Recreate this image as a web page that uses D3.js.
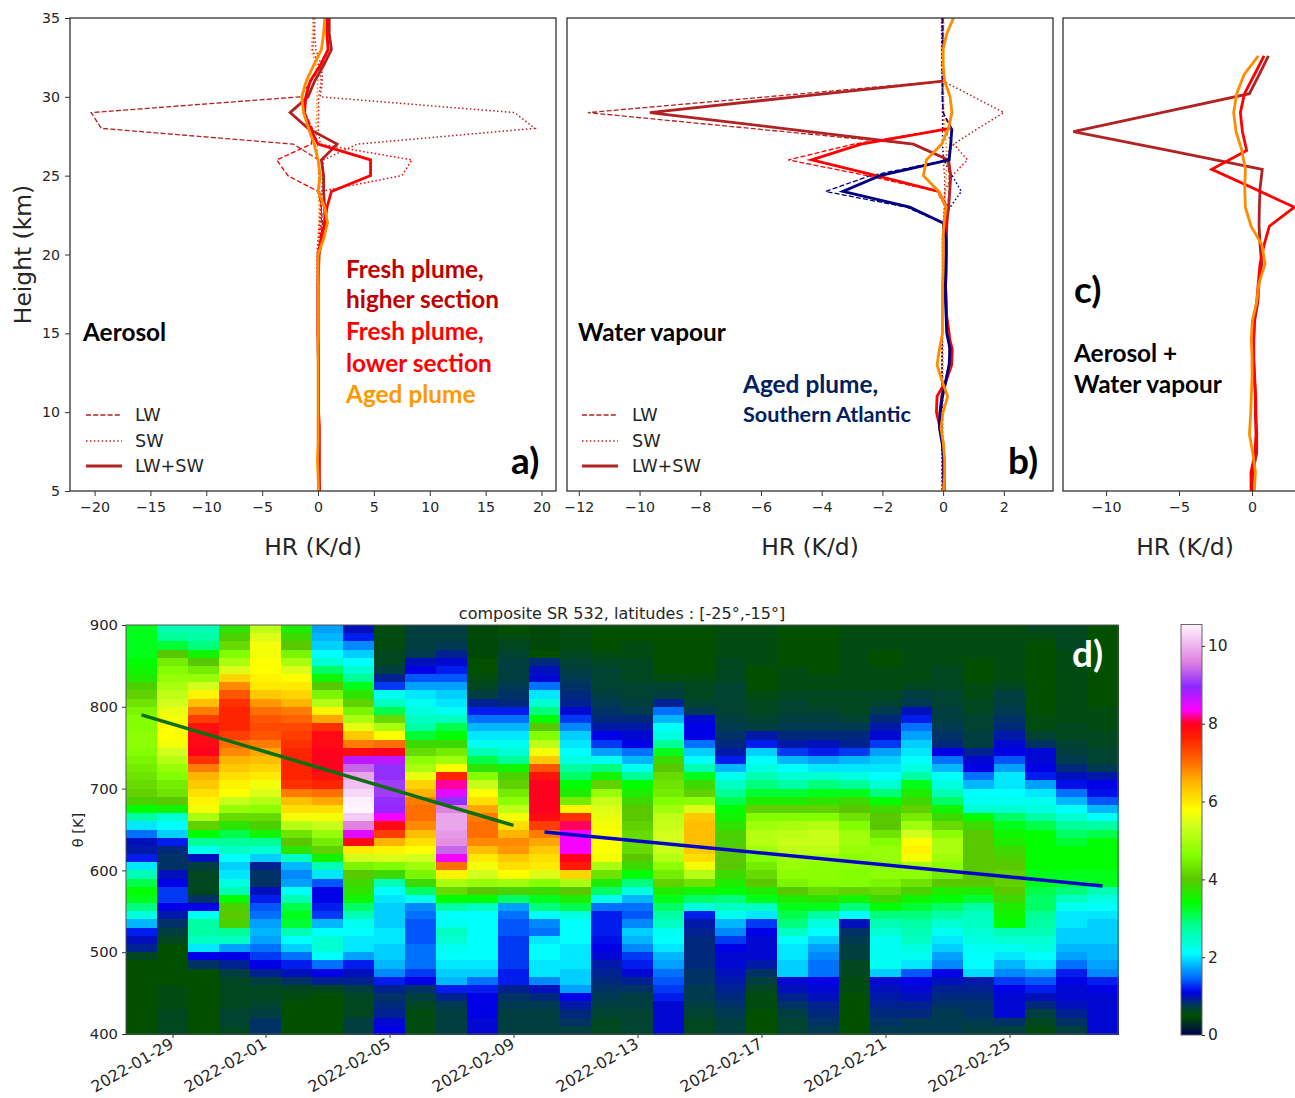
<!DOCTYPE html>
<html>
<head>
<meta charset="utf-8">
<title>HR profiles and composite SR</title>
<style>
  body { margin: 0; background: #fff; }
  svg { display: block; }
  .ax text { font-family: "DejaVu Sans", sans-serif; fill: #262626; }
  .ax path, .ax line { stroke: #333; }
  .note { font-family: Lato, sans-serif; font-weight: 700; }
</style>
</head>
<body>
<svg id="fig" width="1295" height="1098"></svg>
<script src="https://d3js.org/d3.v7.min.js"></script>
<script>
// heights of the profiles, top to bottom (km)
var hrHeights = [35,34,33,32,31,30,29,28,27,26,25,24,23,22,21,20,19,18,17,16,15,14,13,12,11,10,9,8,7,6,5];
var hrHeightsC = [32.6,31.4,30.2,29,27.8,26.6,25.4,24.2,23,21.8,20.6,19.4,18.2,17,15.8,14.6,13.4,12.2,11,9.8,8.6,7.4,6.2,5];

// panel a, aerosol
var aHighTotal = [1,1,1.2,.5,-.3,-.9,-2.5,-.9,1.7,.3,.5,.5,.6,.6,.35,.1,.05,0,0,0,0,.05,.05,.05,.05,.05,.1,.1,.1,.1,.15];
var aHighLW = [.9,.9,.9,.3,-.6,-1.6,-20.3,-19.4,-2.2,.05,.1,.15,.3,.4,.25,.1,.05,0,0,0,0,.05,.05,.05,.05,.05,.1,.1,.1,.1,.1];
var aHighSW = [-.3,-.3,-.2,.3,.4,.2,17.6,19.4,3.5,.5,.4,.35,.3,.2,.1,0,-.05,-.05,-.05,-.05,-.05,0,0,0,0,0,0,0,0,0,0];
var aLowTotal = [.8,.8,.9,.2,-.7,-1.1,-1.2,-.7,0,4.7,4.7,1.2,.8,.6,.3,0,0,0,0,0,0,0,.05,.05,.05,.05,.1,.1,.1,.1,.1];
var aLowLW = [.9,.9,.95,.3,-.7,-1.1,-1.2,-.5,-.6,-3.7,-2.7,0,.3,.3,.2,0,0,0,0,0,0,0,.05,.05,.05,.05,.1,.1,.1,.1,.1];
var aLowSW = [-.45,-.35,-.5,.05,.3,.05,.05,0,.2,8.4,7.5,.3,.2,.1,0,-.1,-.1,-.05,-.05,-.05,-.05,0,0,0,0,0,0,0,0,0,0];
var aAgedTotal = [.6,.5,.3,-.4,-1.05,-1.45,-1.3,-.85,-.35,0,.2,0,.6,.85,.5,0,0,0,0,0,0,0,0,0,0,0,0,0,-.05,0,.05];
var aAgedLW = [.6,.5,.3,-.4,-1.05,-1.4,-1.2,-.7,-.3,0,.15,0,.5,.7,.4,0,0,0,0,0,0,0,0,0,0,0,0,0,-.05,0,.05];
var aAgedSW = [-.4,-.5,-.6,-.2,0,-.1,-.1,-.2,-.1,0,.05,0,.1,.1,.1,0,0,0,0,0,0,0,0,0,0,0,0,0,0,0,0];

// panel b, water vapour. null = the solid line does not reach that height
var bHighTotal = [null,null,null,null,0,-4.85,-9.66,-5.3,-.98,.18,.25,.22,.18,.12,.1,.1,.1,.08,.1,.12,.2,.22,.2,.1,-.05,-.1,-.1,-.02,.02,.03,.03];
var bHighLW = [0,0,0,0,0,-5.8,-11.7,-6.35,-1.03,.15,.2,.2,.15,.1,.1,.1,.1,.08,.1,.12,.18,.2,.2,.1,-.05,-.1,-.1,-.02,.02,.03,.03];
var bHighSW = [-.05,-.05,-.05,-.05,0,1,2,1.15,.35,0,.05,.05,.05,0,0,0,0,0,-.03,-.03,-.03,-.03,-.04,-.04,-.04,-.04,-.03,-.03,-.03,-.03,-.03];
var bLowTotal = [null,null,null,null,null,null,null,.23,-2.7,-4.33,-2.2,-.15,.12,.12,.1,.1,.1,.08,.1,.12,.17,.3,.28,.1,-.2,-.22,-.1,0,.02,.03,.03];
var bLowLW = [0,0,0,0,0,0,0,.23,-2.95,-5.1,-2.5,-.2,.08,.1,.1,.1,.1,.08,.1,.12,.17,.28,.27,.1,-.2,-.22,-.1,0,.02,.03,.03];
var bLowSW = [-.03,-.03,-.03,-.03,-.03,-.03,0,0,.35,.8,.3,.05,.04,.02,0,0,0,0,-.03,-.03,-.03,-.03,-.04,-.04,-.04,-.04,-.03,-.03,-.03,-.03,-.03];
var bSouthTotal = [null,null,null,null,null,null,null,.29,.25,.2,-2.08,-3.3,-1.1,0,.1,.1,.08,.08,.08,.1,.12,.23,.2,.09,-.02,-.1,-.12,-.03,.02,.02,.02];
var bSouthLW = [-.03,-.03,-.03,-.03,-.03,-.03,0,.29,.25,.18,-2.4,-3.87,-1.2,-.02,.1,.1,.08,.08,.08,.1,.12,.22,.2,.09,-.02,-.1,-.12,-.03,.02,.02,.02];
var bSouthSW = [-.02,-.02,-.02,-.02,-.02,-.02,-.02,-.02,-.02,.02,.3,.6,.23,0,-.02,-.02,-.02,-.02,-.02,-.02,-.03,-.03,-.03,-.03,-.03,-.03,-.03,-.03,-.03,-.03,-.03];
var bAgedTotal = [.34,.12,0,0,.05,.23,.29,.18,-.05,-.55,-.65,-.15,.1,.03,0,0,0,-.02,-.02,-.02,-.02,-.12,-.2,-.04,.15,0,-.07,.01,.05,.05,.01];
var bAgedSW = [.02,.02,.02,.02,.02,.02,.03,.05,.1,.12,.1,.08,.05,.02,.02,.02,0,0,0,0,0,0,0,0,0,0,0,0,0,0,0];

// panel c, aerosol + water vapour
var cHighTotal = [1.12,.48,-.18,-6.2,-12.24,-5.73,.7,.55,.5,.48,.55,.66,.48,.4,.18,.12,.12,.18,.25,.27,.32,.32,.05,0];
var cLowTotal = [.82,.16,-.52,-.8,-.66,-.37,-2.76,.09,2.9,1.19,.82,.55,.43,.32,.14,.1,.1,.16,.23,.23,.27,.2,-.07,-.07];
var cAgedTotal = [.43,-.55,-1.05,-1.26,-1.1,-.7,-.46,-.5,-.46,-.07,.68,.89,.48,.32,.02,-.05,0,0,-.05,-.1,-.18,.05,.23,.16];

// panel d, one array per day, theta rows from 890 K down to 400 K
var srDays = ["2022-01-28","2022-01-29","2022-01-30","2022-01-31","2022-02-01","2022-02-02","2022-02-03","2022-02-04","2022-02-05","2022-02-06","2022-02-07","2022-02-08","2022-02-09","2022-02-10","2022-02-11","2022-02-12","2022-02-13","2022-02-14","2022-02-15","2022-02-16","2022-02-17","2022-02-18","2022-02-19","2022-02-20","2022-02-21","2022-02-22","2022-02-23","2022-02-24","2022-02-25","2022-02-26","2022-02-27","2022-02-28"];
var thetaRows = [890,880,870,860,850,840,830,820,810,800,790,780,770,760,750,740,730,720,710,700,690,680,670,660,650,640,630,620,610,600,590,580,570,560,550,540,530,520,510,500,490,480,470,460,450,440,430,420,410,400];
var srValues = [
 [3.3,3.3,3.3,3.3,3.4,3.5,3.6,3.9,4.1,4.3,4.5,4.6,4.6,4.7,4.7,4.6,4.5,4.4,4.3,4.2,4.1,3.9,3.4,2.7,2,1.5,1,.95,1.2,2,2.6,3.1,3.4,3.3,2.9,2.3,1.8,1.2,1,.9,.6,.5,.5,.5,.5,.5,.5,.5,.5,.5],
 [2.6,2.8,3.2,4,4.4,4.6,4.8,5,5.2,5.4,5.6,5.7,5.8,5.8,5.7,5.4,5.1,4.8,4.6,4.4,4.3,4,3.5,2.4,2.1,1.9,1.2,.85,.8,.8,1,1.1,1.3,1.3,1.1,.95,.8,.7,.6,.5,.5,.5,.5,.5,.55,.55,.55,.6,.6,.6],
 [2.6,2.7,2.9,3.5,4,4.4,4.8,5.4,5.9,6.4,6.9,7.4,7.8,7.9,7.9,8,7.5,6.9,6.5,6.3,6.1,5.9,5.7,5,4.1,3.4,2.8,2.2,1,.7,.6,.6,.6,.8,1.1,2.2,2.7,2.7,2.5,2,1.1,.8,.5,.5,.5,.5,.5,.5,.5,.5],
 [3.7,3.9,4.2,4.6,5,5.5,6.2,6.8,7.2,7.5,7.6,7.6,7.6,7.4,7,6.8,6.5,6.3,6.1,5.9,5.8,5.3,4.8,4.2,3.7,3.1,2.8,2.5,2.1,1.9,2,2.3,2.6,3.4,3.9,4,3.9,2.8,2.5,1.7,1.1,.9,.7,.6,.6,.6,.6,.65,.65,.6],
 [5.2,5.5,5.7,5.7,5.8,5.8,5.9,6,6.3,6.7,7,7.2,7.3,7.2,6.9,6.6,6.4,6.2,6,5.7,5.5,5.1,4.7,4.2,3.9,3.5,2.8,2.4,1.9,.9,.8,.8,1,1.2,1.4,1.5,1.7,1.8,1.7,1.5,1.3,1.1,.9,.7,.6,.6,.65,.7,.8,.8],
 [3.6,3.8,4,4.5,5,5.5,5.8,6,6.2,6.5,6.9,7.1,7.3,7.4,7.5,7.6,7.6,7.6,7.6,7.5,6.9,6.4,6.1,5.7,5.1,4.3,4,3.7,2.5,1.8,1.6,1.7,2.1,2.6,3.1,3.3,3.2,2.6,2.1,1.9,1.5,1.2,1,.8,.6,.55,.5,.5,.5,.5],
 [1.7,1.8,1.9,2.1,2.4,3,3.5,4,4.5,5.1,5.9,6.6,7.5,7.9,7.9,8,8,8,7.8,7.6,7,6.6,6.1,5.7,5.3,4.8,4.4,4.1,3.5,2.6,2,1.4,1.1,1.1,1.2,1.3,1.8,2.1,2.4,2.4,2.1,1.5,1.1,.9,.6,.5,.5,.5,.5,.5],
 [1,1.2,1.6,1.9,2.1,2.4,2.8,3.3,3.7,4.1,4.5,5,5.6,6.3,6.9,7.9,8.7,9.4,9.9,10.1,10.3,10.5,10.6,10.2,9.6,8.5,7.9,6,5.4,4.5,4,3.8,3.7,3.5,3,2.6,2.2,2.1,2,2,1.7,1.2,1,.9,.7,.6,.6,.6,.7,.7],
 [.55,.55,.55,.6,.6,.7,.9,1.3,2.2,2.5,3.1,4.2,5,5.8,7,8,8.7,9,9,9.1,9.1,9,8.9,8.4,7.9,7.4,6.5,5.9,5.5,4.6,3.8,2.6,2.1,2,1.9,1.9,1.9,2,2,1.9,1.9,1.8,1.6,1.2,.9,.8,.85,.9,1.05,1.1],
 [.7,.7,.7,.75,1,1.1,1.4,1.7,2,2.2,2.3,2.5,2.7,3.2,3.8,4.2,4.7,5,5.6,6.2,6.5,6.9,7,7,6.8,6.4,6.1,5.8,5.4,4.9,4.5,3.8,3,2.2,1.6,1.5,1.4,1.4,1.4,1.5,1.5,1.5,1.3,1.1,.8,.7,.6,.55,.55,.55],
 [.7,.7,.75,.9,1.05,1.2,1.4,1.7,1.9,2,2.2,2.5,3.1,3.4,3.8,4.4,4.9,5.8,7.6,8.2,8.5,9,9.6,9.9,9.9,9.8,9.7,9.4,8.4,7,5.9,5,4.2,3.4,2.7,2.1,2.2,2.5,2.4,2.2,2.1,2,1.9,1.8,1.2,.9,.75,.7,.7,.7],
 [.45,.45,.45,.45,.5,.5,.55,.6,.7,.9,1.2,1.5,1.8,2,2.2,2.6,3.1,3.7,4.6,5.3,5.8,6.1,6.6,6.9,7,7,6.8,6.4,6,5.7,5.4,4.8,4,3.4,2.5,2.1,2.1,2.1,2.1,2.1,2.1,2,1.9,1.5,1.2,1.1,1.1,1.1,1.05,1.05],
 [.5,.55,.6,.65,.7,.7,.7,.75,.8,.85,1.2,1.5,1.8,2,2.2,2.4,2.8,3.5,3.9,4.1,4.4,4.7,5.2,5.7,6.1,6.5,6.8,6.7,6.3,6.1,5.8,4.9,3.9,3,1.7,1.5,1.4,1.4,1.3,1.3,1.3,1.3,1.2,1.2,.9,.8,.75,.7,.7,.7],
 [.45,.45,.45,.5,.85,1,1.05,1.5,2,2.4,2.9,3.4,4,4.6,5.2,5.7,6.3,7.2,7.8,8,8,8,8,7.9,7.4,6.9,6.6,6.3,6.1,6,5.5,4.6,3.8,3.3,2.9,2.1,1.6,1.5,2,2.1,2.1,2,2,1.6,1,.85,.75,.7,.7,.7],
 [.55,.55,.55,.6,.65,.7,.75,.8,.85,.9,1.05,1.3,1.6,1.9,2,2.1,2.3,2.7,3,3.4,3.6,4.4,5.9,7.5,8.1,8.4,8.4,8.4,8,7.7,6.2,5,4,3.6,3.1,2.3,2.1,2.1,2.1,2,2,2,1.9,1.9,1.7,1.1,.95,.85,.8,.7],
 [.5,.5,.5,.55,.6,.65,.65,.65,.7,.75,.8,.85,.95,1.1,1.3,1.7,2.2,2.9,3.5,4.1,4.8,5.3,5.5,5.6,5.7,5.8,5.8,5.8,5.7,5,4.3,3.6,3,2.2,1.5,1.2,1.2,1.2,1.15,1.1,1.05,.95,.9,.85,.8,.75,.7,.65,.6,.6],
 [.5,.5,.55,.55,.6,.6,.6,.65,.65,.7,.75,.85,.95,1.05,1.1,1.5,1.8,2.2,2.8,3.4,3.6,3.8,4,4,4.1,4.2,4.2,4.2,4,3.8,3.4,2.9,2.3,1.8,1.5,1.4,1.6,1.9,1.8,1.6,1.3,1.2,1.05,.9,.8,.7,.7,.65,.65,.65],
 [.5,.5,.5,.5,.5,.5,.55,.65,.7,.9,1.5,1.8,2.1,2.3,2.8,3.3,3.8,4,4.2,4.3,4.4,4.6,4.9,5.2,5.3,5.4,5.4,5.3,5.1,4.7,4.4,4.1,3.6,3.3,3,2.7,2.5,2.2,2.1,2,1.8,1.7,1.5,1.4,1.3,1.2,1.05,1.05,1.05,1.05],
 [.5,.5,.5,.5,.5,.5,.55,.6,.6,.65,.75,1.05,1.1,1.1,1.5,1.9,2.1,2.6,3.3,3.8,4.1,4.7,5.5,6.3,6.4,6.4,6.4,6.3,6.1,5.7,5.1,4.3,3.5,3,2.3,1.2,.95,.9,.85,.85,.85,.85,.8,.8,.75,.75,.7,.65,.6,.6],
 [.55,.55,.55,.55,.6,.6,.6,.65,.65,.65,.65,.7,.75,.8,.85,.95,1.2,1.8,2.2,2.5,2.8,3.1,3.4,3.5,3.7,3.9,3.9,4,4,4,3.8,3.6,3.4,2.9,2.5,2.2,1.8,1.6,1.3,1.1,1.05,1.05,1,.95,.9,.85,.8,.75,.7,.7],
 [.55,.55,.55,.55,.55,.5,.5,.5,.55,.6,.6,.65,.7,.95,1.2,1.9,2.1,2.3,2.6,2.9,3.2,3.6,4.1,4.6,4.9,5.1,5.1,4.9,4.6,4.4,4.2,4,3.6,3.3,2.5,2,1.3,1.1,1.05,1.05,1.05,.95,.8,.7,.6,.55,.55,.5,.5,.5],
 [.5,.5,.5,.5,.5,.55,.55,.55,.6,.65,.65,.7,.75,.85,.95,1.3,1.8,2.1,2.4,2.7,3.2,3.6,4.1,4.6,5,5.2,5.3,5.2,4.9,4.8,4.7,4.5,4,3.6,3.3,3.1,2.9,2.5,2.1,2,2,1.9,1.9,1.05,1,.9,.8,.7,.65,.65],
 [.5,.5,.5,.5,.5,.5,.55,.55,.6,.6,.65,.7,.75,.85,1,1.2,1.7,2,2.4,2.9,3.3,3.7,4.1,4.6,5.1,5.3,5.3,5.2,4.9,4.7,4.7,4.6,4.2,3.7,3.3,2.7,2.3,2.1,1.9,1.7,1.6,1.5,1.5,1.1,1.05,1,.9,.85,.8,.75],
 [.55,.55,.55,.55,.55,.55,.55,.55,.6,.6,.6,.65,.75,.85,.9,1.3,1.8,2,2.3,2.8,3.3,3.8,4,4.3,4.6,4.9,4.9,4.8,4.7,4.7,4.6,4.6,4.1,3.5,2.9,2.1,1,.8,.75,.7,.7,.6,.6,.55,.55,.5,.5,.5,.5,.5],
 [.55,.55,.55,.5,.5,.55,.55,.55,.6,.65,.75,.85,.95,1.05,1.3,1.7,1.9,2,2.1,2.4,2.9,3.4,3.8,4,4,4.3,4.6,4.8,4.8,4.7,4.7,4.5,4.2,3.8,3.4,2.9,2.6,2.4,2.2,2.2,2.2,2.2,1.9,1.05,1,.95,.9,.85,.8,.75],
 [.55,.55,.55,.55,.55,.55,.55,.6,.7,.75,1,1.2,1.5,1.7,1.9,2,2.1,2.3,2.7,3.3,3.6,3.8,4.1,4.4,4.9,5.4,5.8,5.9,5.7,5,4.7,4.3,3.9,3.5,3.2,2.9,2.7,2.6,2.5,2.3,2.2,2,1.4,1.1,1.05,1,.9,.85,.75,.75],
 [.55,.55,.55,.55,.55,.6,.6,.6,.65,.65,.7,.7,.75,.8,.85,1.1,1.5,1.8,2.1,2.3,2.6,3,3.5,3.8,4.2,4.7,5,5,4.9,4.7,4.4,4,3.6,3.4,3,2.7,2.4,2.2,2,1.9,1.7,1.6,1.1,1,.9,.85,.8,.75,.75,.75],
 [.55,.55,.55,.55,.5,.5,.5,.55,.55,.6,.6,.65,.65,.7,.7,.9,1.05,1.1,1.5,1.8,2.1,2.2,2.4,3.4,3.8,4,4,4,4,4,4,4,3.6,3.2,2.7,2.5,2.5,2.4,2.3,2.2,2.1,2.1,1.95,.95,.9,.85,.8,.8,.75,.7],
 [.55,.55,.55,.55,.55,.55,.55,.6,.7,.7,.75,.8,.85,.95,1.05,1.1,1.4,1.7,2,2,2.1,2.2,2.4,3,3.3,3.5,3.6,3.8,3.9,4,4.1,4.1,4,3.8,3.6,3.5,3.4,2.6,2.4,2.2,2,1.8,1.6,1.3,1.1,1.05,1.05,1.05,.8,.7],
 [.6,.55,.5,.5,.5,.5,.5,.5,.5,.5,.5,.55,.55,.65,.8,1.05,1.05,1.1,1.2,1.7,2,2.2,2.3,2.7,3.1,3.4,3.4,3.4,3.4,3.4,3.3,3.3,3.1,3,3,2.8,2.7,2.6,2.4,2.3,2.1,2,1.7,1.4,1.2,1,.85,.7,.6,.55],
 [.6,.6,.6,.55,.55,.55,.55,.55,.55,.55,.55,.55,.6,.6,.65,.7,.75,.85,1,1.15,1.5,1.8,2.1,2.4,2.8,3,3.2,3.4,3.4,3.4,3.3,3.2,2.9,2.5,2.2,2,2,1.9,1.9,1.8,1.7,1.5,1.2,1.1,1.05,1.05,1,.9,.8,.7],
 [.5,.5,.5,.5,.5,.5,.5,.5,.5,.5,.55,.55,.55,.6,.6,.65,.65,.75,.95,1.1,1.15,1.4,1.8,2.1,2.7,3.1,3.4,3.4,3.4,3.4,3.3,3.3,2.6,2.3,2.1,2,1.9,1.9,1.9,1.8,1.8,1.7,1.6,1.2,1.1,1.05,1.05,1.05,1.05,1.05]
];
// the two trend lines of panel d
var greenLineDays = ["2022-01-28","2022-02-09"];
var greenLineTheta = [790,655];
var blueLineDays = ["2022-02-10","2022-02-28"];
var blueLineTheta = [647,581];
var dateTicks = ["2022-01-29","2022-02-01","2022-02-05","2022-02-09","2022-02-13","2022-02-17","2022-02-21","2022-02-25"];

// colour map of the SR colour bar
var cmapValues = [0,.5,.75,1.1,1.45,2.1,2.8,3.4,4,4.6,5.4,5.8,6.5,7,7.65,8,8.35,8.95,9.6,10.55];
var cmapColors = ["#00004f","#005000","#003a50","#0000e6","#0064ff","#00ffff","#00ff96","#00ff00","#5ac800","#82ff00","#d2ff1e","#ffff00","#ffb400","#ff6e00","#ff1e00","#ff001e","#ff00ff","#8c28ff","#e182e1","#fff5ff"];

var brown = "#b22222", red = "#ff0000", orange = "#ff8c00", navy = "#000080";
var svg = d3.select("#fig");
var yTop = 18, yBot = 491;

var y = d3.scaleLinear().domain([5, 35]).range([yBot, yTop]);
var line = d3.line().x(function(d) { return d[0]; }).y(function(d) { return d[1]; })
    .defined(function(d) { return d[2] !== null; });

function profile(g, x, heights, vals, color, kind) {
    var pts = vals.map(function(v, i) { return [x(v), y(heights[i]), v]; });
    var p = g.append("path").attr("d", line(pts)).attr("fill", "none").attr("stroke", color)
        .attr("stroke-linejoin", "miter");
    if (kind == "lw") p.attr("stroke-width", 1.3).attr("stroke-dasharray", "5,2.2");
    if (kind == "sw") p.attr("stroke-width", 1.5).attr("stroke-dasharray", "1.5,2.4");
    if (kind == "tot") p.attr("stroke-width", 2.8);
}

function panel(id, x0, x1, domain, ticks, showY) {
    var x = d3.scaleLinear().domain(domain).range([x0, x1]);
    svg.append("clipPath").attr("id", "clip" + id).append("rect")
        .attr("x", x0).attr("y", yTop).attr("width", x1 - x0).attr("height", yBot - yTop);
    var g = svg.append("g").attr("clip-path", "url(#clip" + id + ")");
    var ax = svg.append("g").attr("class", "ax").attr("transform", "translate(0," + yBot + ")")
        .call(d3.axisBottom(x).tickValues(ticks).tickSize(5).tickPadding(6)
            .tickFormat(function(d) { return String(d).replace("-", "\u2212"); }));
    ax.selectAll("text").style("font-size", "14.2px");
    ax.select(".domain").remove();
    if (showY) {
        var ay = svg.append("g").attr("class", "ax").attr("transform", "translate(" + x0 + ",0)")
            .call(d3.axisLeft(y).tickValues([5,10,15,20,25,30,35]).tickSize(5).tickPadding(5));
        ay.selectAll("text").style("font-size", "14.2px");
        ay.select(".domain").remove();
    }
    svg.append("rect").attr("x", x0).attr("y", yTop).attr("width", x1 - x0).attr("height", yBot - yTop)
        .attr("fill", "none").attr("stroke", "#333").attr("stroke-width", 1.3);
    return { x: x, g: g };
}

// panel a
var pa = panel("a", 70, 556, [-22.2, 21.3], [-20,-15,-10,-5,0,5,10,15,20], true);
[[aHighSW, brown, "sw"], [aLowSW, red, "sw"], [aAgedSW, orange, "sw"],
 [aHighLW, brown, "lw"], [aLowLW, red, "lw"], [aAgedLW, orange, "lw"],
 [aHighTotal, brown, "tot"], [aLowTotal, red, "tot"], [aAgedTotal, orange, "tot"]].forEach(function(s) {
    profile(pa.g, pa.x, hrHeights, s[0], s[1], s[2]);
});

// panel b
var pb = panel("b", 567, 1053, [-12.39, 3.62], [-12,-10,-8,-6,-4,-2,0,2], false);
[[bHighSW, brown, "sw"], [bLowSW, red, "sw"], [bAgedSW, orange, "sw"], [bSouthSW, navy, "sw"],
 [bHighLW, brown, "lw"], [bLowLW, red, "lw"], [bSouthLW, navy, "lw"],
 [bHighTotal, brown, "tot"], [bLowTotal, red, "tot"], [bSouthTotal, navy, "tot"], [bAgedTotal, orange, "tot"]].forEach(function(s) {
    profile(pb.g, pb.x, hrHeights, s[0], s[1], s[2]);
});

// panel c runs off the right side of the page
var pc = panel("c", 1063, 1310, [-12.95, 3.97], [-10,-5,0], false);
[[cHighTotal, brown], [cLowTotal, red], [cAgedTotal, orange]].forEach(function(s) {
    profile(pc.g, pc.x, hrHeightsC, s[0], s[1], "tot");
});

// labels of the top row
function axisText(txt, x, yy, size, rot, anchor) {
    var t = svg.append("text").attr("x", x).attr("y", yy).text(txt)
        .style("font-family", "'DejaVu Sans', sans-serif").style("font-size", size + "px").style("fill", "#262626")
        .attr("text-anchor", anchor || "middle");
    if (rot) t.attr("transform", "rotate(" + rot + "," + x + "," + yy + ")");
    return t;
}
axisText("HR (K/d)", 313, 555, 23.4);
axisText("HR (K/d)", 810, 555, 23.4);
axisText("HR (K/d)", 1185, 555, 23.4);
axisText("Height (km)", 31, 254.5, 23.4, -90);

function note(txt, x, yy, size, color) {
    svg.append("text").attr("class", "note").attr("x", x).attr("y", yy).text(txt)
        .style("font-size", size + "px").style("fill", color);
}
note("Fresh plume,", 346, 278, 24.4, "#c00000");
note("higher section", 346, 308, 24.4, "#c00000");
note("Fresh plume,", 346, 340, 24.4, "#ff0000");
note("lower section", 346, 372, 24.4, "#ff0000");
note("Aged plume", 346, 403, 24.4, "#ff9900");
note("Aerosol", 83, 341, 24.4, "#000");
note("Water vapour", 578, 341, 24.4, "#000");
note("Aged plume,", 743, 393, 24.4, "#002060");
note("Southern Atlantic", 743, 422, 21.6, "#002060");
note("Aerosol +", 1074, 362, 24.4, "#000");
note("Water vapour", 1074, 393, 24.4, "#000");
note("a)", 511, 474, 37, "#000");
note("b)", 1008, 474, 37, "#000");
note("c)", 1074, 303, 37, "#000");

// LW / SW legends
[[86, 135], [582, 632]].forEach(function(lg) {
    [["LW", 415, "lw"], ["SW", 441, "sw"], ["LW+SW", 466, "tot"]].forEach(function(e) {
        var l = svg.append("line").attr("x1", lg[0]).attr("x2", lg[0] + 36).attr("y1", e[1]).attr("y2", e[1])
            .attr("stroke", brown);
        if (e[2] == "lw") l.attr("stroke-width", 1.3).attr("stroke-dasharray", "5,2.2");
        if (e[2] == "sw") l.attr("stroke-width", 1.5).attr("stroke-dasharray", "1.5,2.4");
        if (e[2] == "tot") l.attr("stroke-width", 2.8);
        axisText(e[0], lg[1], e[1] + 6, 17.6, 0, "start");
    });
});

// panel d, heat map
var parseDay = d3.utcParse("%Y-%m-%d");
var dayMs = 864e5;
var hx = d3.scaleUtc()
    .domain([new Date(+parseDay(srDays[0]) - dayMs / 2), new Date(+parseDay(srDays[srDays.length - 1]) + dayMs / 2)])
    .range([126, 1118]);
var hy = d3.scaleLinear().domain([400, 900]).range([1034, 625]);
var srColor = d3.scaleLinear().domain(cmapValues).range(cmapColors).clamp(true);

var cells = [];
srValues.forEach(function(col, i) {
    var t = +parseDay(srDays[i]);
    col.forEach(function(v, j) { cells.push({ t: t, theta: thetaRows[j], v: v }); });
});
svg.append("g").attr("shape-rendering", "crispEdges").selectAll("rect").data(cells).enter().append("rect")
    .attr("x", function(d) { return hx(new Date(d.t - dayMs / 2)); })
    .attr("y", function(d) { return hy(d.theta + 10); })
    .attr("width", function(d) { return hx(new Date(d.t + dayMs / 2)) - hx(new Date(d.t - dayMs / 2)) + .5; })
    .attr("height", function(d) { return hy(d.theta) - hy(d.theta + 10) + .5; })
    .attr("fill", function(d) { return srColor(d.v); });

function trend(days, thetas, color) {
    var pts = days.map(function(d, i) { return [hx(parseDay(d)), hy(thetas[i]), thetas[i]]; });
    svg.append("path").attr("d", line(pts)).attr("fill", "none").attr("stroke", color).attr("stroke-width", 3.4);
}
trend(greenLineDays, greenLineTheta, "#0b6e12");
trend(blueLineDays, blueLineTheta, "#0505c8");

var dx = svg.append("g").attr("class", "ax").attr("transform", "translate(0,1034)")
    .call(d3.axisBottom(hx).tickValues(dateTicks.map(parseDay)).tickSize(4).tickFormat(d3.utcFormat("%Y-%m-%d")));
dx.select(".domain").remove();
dx.selectAll("text").style("font-size", "15.8px").attr("text-anchor", "end")
    .attr("transform", "rotate(-30)").attr("x", -5).attr("y", 1).attr("dy", ".7em");
var dy = svg.append("g").attr("class", "ax").attr("transform", "translate(126,0)")
    .call(d3.axisLeft(hy).tickValues([400,500,600,700,800,900]).tickSize(4).tickPadding(4));
dy.select(".domain").remove();
dy.selectAll("text").style("font-size", "14.8px");
svg.append("rect").attr("x", 126).attr("y", 625).attr("width", 992).attr("height", 409)
    .attr("fill", "none").attr("stroke", "#555").attr("stroke-width", 1);
axisText("composite SR 532, latitudes : [-25°,-15°]", 622, 618.5, 16);
axisText("\u03b8 [K]", 83, 830, 14.5, -90);
note("d)", 1072, 667, 37, "#fff");

// colour bar
var barScale = d3.scaleLinear().domain([0, 10.55]).range([1035, 624.5]);
var grad = svg.append("defs").append("linearGradient").attr("id", "srBar")
    .attr("x1", 0).attr("x2", 0).attr("y1", 1).attr("y2", 0);
cmapValues.forEach(function(v, i) {
    grad.append("stop").attr("offset", v / 10.55).attr("stop-color", cmapColors[i]);
});
svg.append("rect").attr("x", 1181).attr("y", 624.5).attr("width", 21).attr("height", 410.5)
    .attr("fill", "url(#srBar)").attr("stroke", "#666").attr("stroke-width", 1);
var cb = svg.append("g").attr("class", "ax").attr("transform", "translate(1202,0)")
    .call(d3.axisRight(barScale).tickValues([0,2,4,6,8,10]).tickSize(3).tickPadding(3));
cb.select(".domain").remove();
cb.selectAll("text").style("font-size", "15.5px");
</script>
</body>
</html>
